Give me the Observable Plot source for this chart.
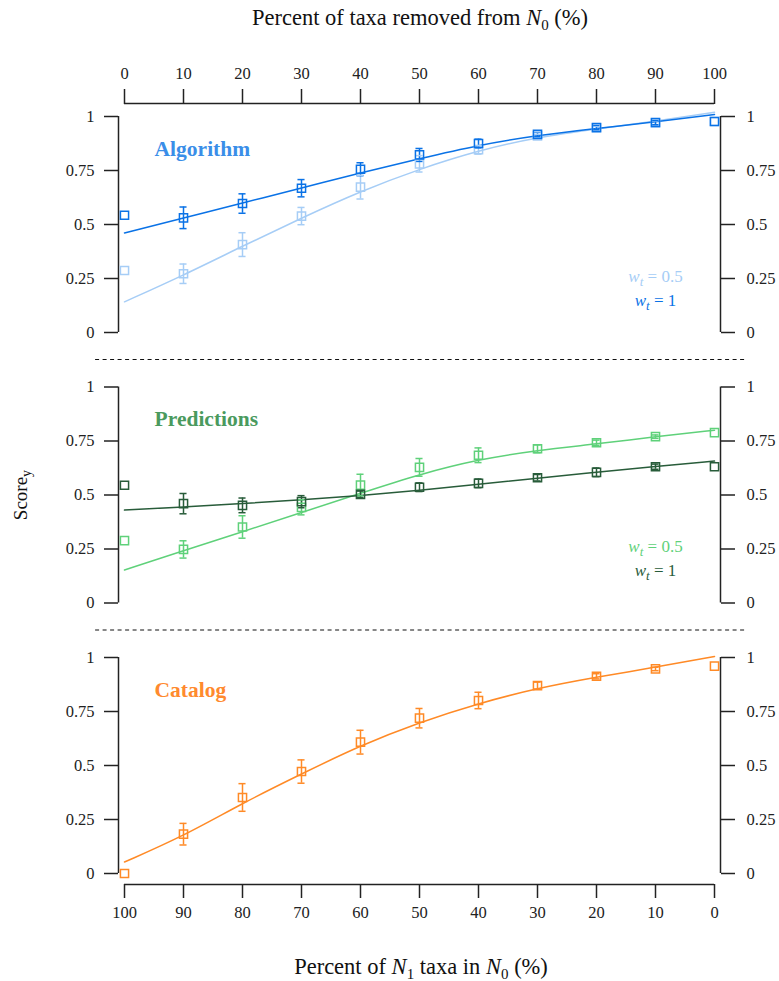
<!DOCTYPE html>
<html><head><meta charset="utf-8">
<script src="https://cdn.jsdelivr.net/npm/d3@7"></script>
<script src="https://cdn.jsdelivr.net/npm/@observablehq/plot@0.6"></script>
<style>body{margin:0;background:#fff}</style>
</head><body><div id="chart"></div>
<script>
// ---- data ----
const pct = [0,10,20,30,40,50,60,70,80,90,100];
const panels = ["Algorithm","Predictions","Catalog"];

const algW1     = [0.543,0.531,0.597,0.668,0.756,0.822,0.875,0.917,0.949,0.972,0.977];
const algW1Err  = [0,0.05,0.045,0.04,0.03,0.03,0.02,0.01,0.01,0.01,0];
const algW1Fit  = [0.461,0.53,0.60,0.668,0.74,0.805,0.868,0.913,0.945,0.975,1.009];
const algW05    = [0.287,0.272,0.407,0.539,0.673,0.781,0.846,0.91,0.946,0.97,0.977];
const algW05Err = [0,0.045,0.055,0.04,0.055,0.038,0.02,0.008,0.008,0.01,0];
const algW05Fit = [0.142,0.265,0.40,0.53,0.654,0.757,0.843,0.904,0.942,0.978,1.02];

const predW1     = [0.545,0.46,0.452,0.469,0.503,0.536,0.554,0.58,0.605,0.631,0.631];
const predW1Err  = [0,0.047,0.034,0.028,0.015,0.02,0.02,0.015,0.02,0.012,0];
const predW1Fit  = [0.43,0.445,0.46,0.478,0.497,0.522,0.55,0.578,0.605,0.632,0.657];
const predW05    = [0.289,0.248,0.352,0.443,0.546,0.628,0.684,0.714,0.742,0.77,0.789];
const predW05Err = [0,0.04,0.052,0.035,0.05,0.041,0.034,0.018,0.012,0.008,0];
const predW05Fit = [0.153,0.242,0.33,0.419,0.508,0.596,0.665,0.707,0.736,0.77,0.80];

const cat     = [0.0,0.182,0.352,0.472,0.608,0.719,0.801,0.87,0.913,0.947,0.96];
const catErr  = [0,0.05,0.064,0.054,0.055,0.045,0.038,0.016,0.012,0.008,0];
const catFit  = [0.053,0.173,0.326,0.461,0.593,0.70,0.788,0.858,0.909,0.955,1.005];

const yTicks = [0,0.25,0.5,0.75,1];
const legendLabels = ["w_t = 0.5","w_t = 1"];

// ---- styles ----
const colors = {
  alg05:"#a6cdf6", alg1:"#0a72e6", algLabel:"#3a8ee8",
  pred05:"#5fd17a", pred1:"#285c3a", predLabel:"#4a9a5e",
  cat:"#ff8a26", catLabel:"#ff8a2e"
};

const series = [
  {panel:"Algorithm", key:"alg05", vals:algW05, err:algW05Err, fit:algW05Fit},
  {panel:"Algorithm", key:"alg1", vals:algW1, err:algW1Err, fit:algW1Fit},
  {panel:"Predictions", key:"pred05", vals:predW05, err:predW05Err, fit:predW05Fit},
  {panel:"Predictions", key:"pred1", vals:predW1, err:predW1Err, fit:predW1Fit},
  {panel:"Catalog", key:"cat", vals:cat, err:catErr, fit:catFit}
];
const points = series.flatMap(s => pct.map((x,i) => ({panel:s.panel, key:s.key, x, y:s.vals[i], err:s.err[i]})));
const fits = series.flatMap(s => pct.map((x,i) => ({panel:s.panel, key:s.key, x, y:s.fit[i]})));
const bars = points.filter(d => d.err > 0);
const labels = [
  {panel:"Algorithm", text:"Algorithm", c:"algLabel"},
  {panel:"Predictions", text:"Predictions", c:"predLabel"},
  {panel:"Catalog", text:"Catalog", c:"catLabel"}
];
const legends = [
  {panel:"Algorithm", text:legendLabels[0], key:"alg05", row:0},
  {panel:"Algorithm", text:legendLabels[1], key:"alg1", row:1},
  {panel:"Predictions", text:legendLabels[0], key:"pred05", row:0},
  {panel:"Predictions", text:legendLabels[1], key:"pred1", row:1}
];

const axisColor = "#222";
const chart = Plot.plot({
  width: 779, height: 981,
  marginTop: 103, marginBottom: 97, marginLeft: 118, marginRight: 59,
  insetLeft: 6, insetRight: 6, insetTop: 13, insetBottom: 11,
  x: {domain:[0,100]},
  y: {domain:[0,1]},
  fy: {domain: panels, axis: null, paddingInner: 0.11275, paddingOuter: 0, round: false},
  color: {type: "identity"},
  style: {fontFamily: "'Liberation Serif', 'DejaVu Serif', serif", fontSize: "16.5px", background: "#fff", color: axisColor},
  marks: [
    // axis lines
    Plot.ruleX(panels, {x: 0, y1: 0, y2: 1, fy: d => d, dx: -6, stroke: axisColor, strokeWidth: 1.5}),
    Plot.ruleX(panels, {x: 100, y1: 0, y2: 1, fy: d => d, dx: 6, stroke: axisColor, strokeWidth: 1.5}),
    Plot.ruleY([panels[0]], {y: 1, fy: d => d, x1: 0, x2: 100, dy: -13, stroke: axisColor, strokeWidth: 1.5}),
    Plot.ruleY([panels[2]], {y: 0, fy: d => d, x1: 0, x2: 100, dy: 11, stroke: axisColor, strokeWidth: 1.5}),
    Plot.axisY({anchor: "left", ticks: yTicks, tickFormat: d => String(d), tickSize: 14, tickPadding: 10, label: null, strokeWidth: 1.5}),
    Plot.axisY({anchor: "right", ticks: yTicks, tickFormat: d => String(d), tickSize: 14, tickPadding: 12, label: null, strokeWidth: 1.5}),
    Plot.axisX({anchor: "top", ticks: pct, tickFormat: d => String(d), tickSize: 15, tickPadding: 10, label: null, strokeWidth: 1.5}),
    Plot.axisX({anchor: "bottom", ticks: pct, tickFormat: d => String(100 - d), tickSize: 14, tickPadding: 8, label: null, strokeWidth: 1.5}),
    // separators
    Plot.ruleY(panels.slice(0,2), {y: -0.125, fy: d => d, x1: -4.9, x2: 105.3, stroke: "#111", strokeWidth: 1.2, strokeDasharray: "4,3.5"}),
    // fits
    Plot.line(fits, {x: "x", y: "y", fy: "panel", z: "key", stroke: d => colors[d.key], strokeWidth: 1.5, curve: "basis"}),
    // error bars
    Plot.ruleX(bars, {x: "x", y1: d => d.y - d.err, y2: d => d.y + d.err, fy: "panel", stroke: d => colors[d.key], strokeWidth: 1.5}),
    Plot.ruleY(bars, {y: d => d.y - d.err, x1: d => d.x - 0.6, x2: d => d.x + 0.6, fy: "panel", stroke: d => colors[d.key], strokeWidth: 1.5}),
    Plot.ruleY(bars, {y: d => d.y + d.err, x1: d => d.x - 0.6, x2: d => d.x + 0.6, fy: "panel", stroke: d => colors[d.key], strokeWidth: 1.5}),
    // points
    Plot.dot(points, {x: "x", y: "y", fy: "panel", symbol: "square", r: 4.6, fill: "none", stroke: d => colors[d.key], strokeWidth: 1.5}),
    // panel labels
    Plot.text(labels, {x: 5.1, y: 0.85, fy: "panel", text: "text", fill: d => colors[d.c], textAnchor: "start", fontWeight: "bold", fontSize: 21.5}),
    // legends
    Plot.text(legends, {x: 90, y: d => d.row === 0 ? 0.26 : 0.148, fy: "panel", text: "text", fill: d => colors[d.key], textAnchor: "middle", fontSize: 17})
  ]
});

document.getElementById("chart").appendChild(chart);

// rich text: subscripts
const svg = d3.select(chart);
svg.selectAll("text").each(function() {
  const t = this.textContent;
  const m = /^w_t = (.*)$/.exec(t);
  if (m) {
    const el = d3.select(this);
    el.text(null);
    el.append("tspan").attr("font-style", "italic").text("w");
    el.append("tspan").attr("font-style", "italic").attr("font-size", "13px").attr("dy", "4").text("t");
    el.append("tspan").attr("dy", "-4").text(" = " + m[1]);
  }
});

function richText(parent, parts, attrs) {
  const t = parent.append("text");
  for (const [k, v] of Object.entries(attrs)) t.attr(k, v);
  let pendingDy = 0;
  for (const p of parts) {
    if (typeof p === "string") {
      const s = t.append("tspan").text(p);
      if (pendingDy) { s.attr("dy", pendingDy); pendingDy = 0; }
    } else {
      const s = t.append("tspan");
      if (pendingDy) { s.attr("dy", pendingDy); pendingDy = 0; }
      if (p.italic) s.attr("font-style", "italic");
      s.text(p.text);
      if (p.sub) {
        t.append("tspan").attr("font-size", "15px").attr("dy", "5").text(p.sub);
        pendingDy = -5;
      }
    }
  }
  return t;
}
const g = svg.append("g").attr("fill", "#111").attr("font-family", "'Liberation Serif', serif").attr("font-size", "22.5px");
richText(g, ["Percent of taxa removed from ", {text:"N", italic:true, sub:"0"}, " (%)"], {x: 420, y: 25, "text-anchor": "middle"});
richText(g, ["Percent of ", {text:"N", italic:true, sub:"1"}, " taxa in ", {text:"N", italic:true, sub:"0"}, " (%)"], {x: 421, y: 974, "text-anchor": "middle"});
const sc = g.append("text").attr("transform", "translate(27,495) rotate(-90)").attr("text-anchor", "middle").attr("font-size", "19px");
sc.append("tspan").text("Score");
sc.append("tspan").attr("font-size", "14px").attr("dy", "4").text("y");
</script>
</body></html>
